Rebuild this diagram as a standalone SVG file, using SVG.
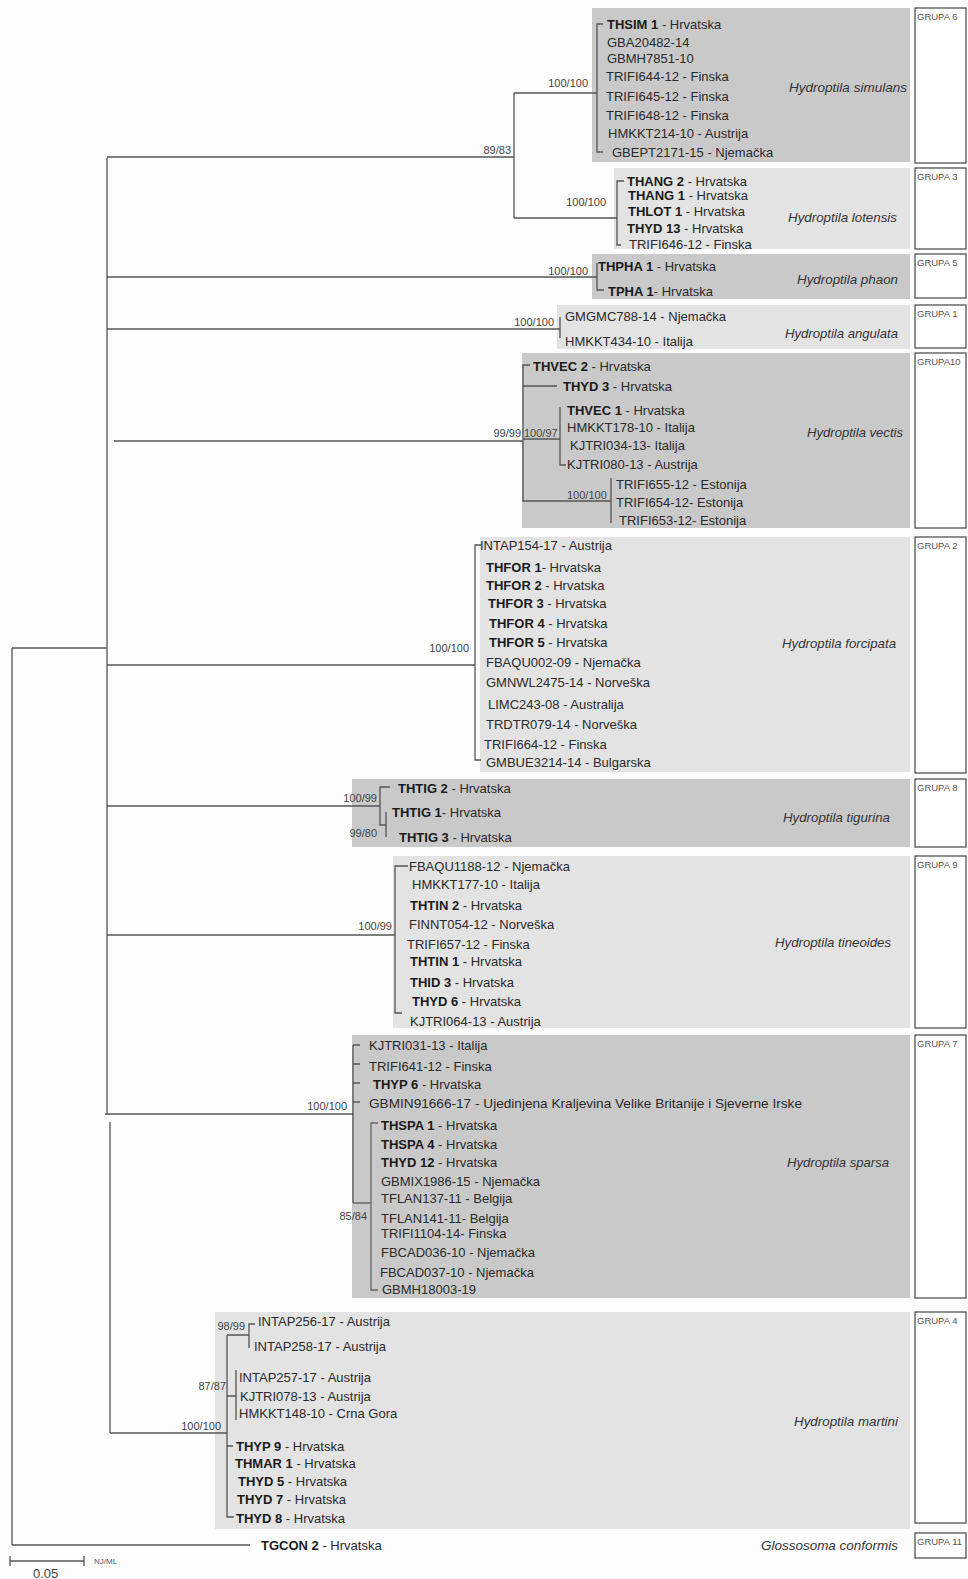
<svg xmlns="http://www.w3.org/2000/svg" width="968" height="1579" viewBox="0 0 968 1579">
<style>
text{font-family:"Liberation Sans",Arial,sans-serif;fill:#2a2a2a}
.t{font-size:13px}
.b{font-weight:bold;fill:#1a1a1a}
.sp{font-size:13px;font-style:italic;fill:#333}
.bs{font-size:11px;fill:#444}
.g{font-size:9.5px;fill:#555}
.dk{fill:#c9c9c9}
.lt{fill:#e3e3e3}
.gb{fill:#fff;stroke:#444;stroke-width:1.2}
.e path{stroke:#555;stroke-width:1.3;fill:none}
</style>
<rect width="968" height="1579" fill="#fdfdfd"/>

<g id="n-simulans">
<rect class="dk" x="592" y="8" width="318" height="154"/>
<text class="t" x="607" y="28.5"><tspan class="b">THSIM 1</tspan> - Hrvatska</text>
<text class="t" x="607" y="46.5">GBA20482-14</text>
<text class="t" x="607" y="62.5">GBMH7851-10</text>
<text class="t" x="606" y="80.5">TRIFI644-12 - Finska</text>
<text class="t" x="606" y="100.5">TRIFI645-12 - Finska</text>
<text class="t" x="606" y="119.5">TRIFI648-12 - Finska</text>
<text class="t" x="608" y="137.5">HMKKT214-10 - Austrija</text>
<text class="t" x="612" y="156.5">GBEPT2171-15 - Njemačka</text>
<text class="sp" x="789" y="91.5" textLength="118" lengthAdjust="spacingAndGlyphs">Hydroptila simulans</text>
</g>

<g id="n-lotensis">
<rect class="lt" x="614" y="168" width="296" height="81"/>
<text class="t" x="627" y="185.5"><tspan class="b">THANG 2</tspan> - Hrvatska</text>
<text class="t" x="628" y="199.5"><tspan class="b">THANG 1</tspan> - Hrvatska</text>
<text class="t" x="628" y="215.5"><tspan class="b">THLOT 1</tspan> - Hrvatska</text>
<text class="t" x="627" y="232.5"><tspan class="b">THYD 13</tspan> - Hrvatska</text>
<text class="t" x="629" y="248.5">TRIFI646-12 - Finska</text>
<text class="sp" x="788" y="221.5" textLength="109" lengthAdjust="spacingAndGlyphs">Hydroptila lotensis</text>
</g>

<g id="n-phaon">
<rect class="dk" x="592" y="254" width="318" height="45"/>
<text class="t" x="598" y="270.5"><tspan class="b">THPHA 1</tspan> - Hrvatska</text>
<text class="t" x="608" y="295.5"><tspan class="b">TPHA 1</tspan>- Hrvatska</text>
<text class="sp" x="797" y="283.5" textLength="101" lengthAdjust="spacingAndGlyphs">Hydroptila phaon</text>
</g>

<g id="n-angulata">
<rect class="lt" x="557" y="305" width="353" height="44"/>
<text class="t" x="565" y="320.5">GMGMC788-14 - Njemačka</text>
<text class="t" x="565" y="345.5">HMKKT434-10 - Italija</text>
<text class="sp" x="785" y="337.5" textLength="113" lengthAdjust="spacingAndGlyphs">Hydroptila angulata</text>
</g>

<g id="n-vectis">
<rect class="dk" x="522" y="353" width="388" height="175"/>
<text class="t" x="533" y="370.5"><tspan class="b">THVEC 2</tspan> - Hrvatska</text>
<text class="t" x="563" y="390.5"><tspan class="b">THYD 3</tspan> - Hrvatska</text>
<text class="t" x="567" y="414.5"><tspan class="b">THVEC 1</tspan> - Hrvatska</text>
<text class="t" x="567" y="431.5">HMKKT178-10 - Italija</text>
<text class="t" x="570" y="449.5">KJTRI034-13- Italija</text>
<text class="t" x="567" y="468.5">KJTRI080-13 - Austrija</text>
<text class="t" x="616" y="488.5">TRIFI655-12 - Estonija</text>
<text class="t" x="616" y="506.5">TRIFI654-12- Estonija</text>
<text class="t" x="619" y="524.5">TRIFI653-12- Estonija</text>
<text class="sp" x="807" y="436.5" textLength="96" lengthAdjust="spacingAndGlyphs">Hydroptila vectis</text>
</g>

<g id="n-forcipata">
<rect class="lt" x="480" y="537" width="430" height="235"/>
<text class="t" x="480" y="549.5">INTAP154-17 - Austrija</text>
<text class="t" x="486" y="571.5"><tspan class="b">THFOR 1</tspan>- Hrvatska</text>
<text class="t" x="486" y="589.5"><tspan class="b">THFOR 2</tspan> - Hrvatska</text>
<text class="t" x="488" y="607.5"><tspan class="b">THFOR 3</tspan> - Hrvatska</text>
<text class="t" x="489" y="627.5"><tspan class="b">THFOR 4</tspan> - Hrvatska</text>
<text class="t" x="489" y="646.5"><tspan class="b">THFOR 5</tspan> - Hrvatska</text>
<text class="t" x="486" y="666.5">FBAQU002-09 - Njemačka</text>
<text class="t" x="486" y="686.5">GMNWL2475-14 - Norveška</text>
<text class="t" x="488" y="708.5">LIMC243-08 - Australija</text>
<text class="t" x="486" y="728.5">TRDTR079-14 - Norveška</text>
<text class="t" x="484" y="748.5">TRIFI664-12 - Finska</text>
<text class="t" x="486" y="766.5">GMBUE3214-14 - Bulgarska</text>
<text class="sp" x="782" y="647.5" textLength="114" lengthAdjust="spacingAndGlyphs">Hydroptila forcipata</text>
</g>

<g id="n-tigurina">
<rect class="dk" x="352" y="779" width="558" height="68"/>
<text class="t" x="398" y="792.5"><tspan class="b">THTIG 2</tspan> - Hrvatska</text>
<text class="t" x="392" y="816.5"><tspan class="b">THTIG 1</tspan>- Hrvatska</text>
<text class="t" x="399" y="841.5"><tspan class="b">THTIG 3</tspan> - Hrvatska</text>
<text class="sp" x="783" y="821.5" textLength="107" lengthAdjust="spacingAndGlyphs">Hydroptila tigurina</text>
</g>

<g id="n-tineoides">
<rect class="lt" x="393" y="856" width="517" height="172"/>
<text class="t" x="409" y="870.5">FBAQU1188-12 - Njemačka</text>
<text class="t" x="412" y="888.5">HMKKT177-10 - Italija</text>
<text class="t" x="410" y="909.5"><tspan class="b">THTIN 2</tspan> - Hrvatska</text>
<text class="t" x="409" y="928.5">FINNT054-12 - Norveška</text>
<text class="t" x="407" y="948.5">TRIFI657-12 - Finska</text>
<text class="t" x="410" y="965.5"><tspan class="b">THTIN 1</tspan> - Hrvatska</text>
<text class="t" x="410" y="986.5"><tspan class="b">THID 3</tspan> - Hrvatska</text>
<text class="t" x="412" y="1005.5"><tspan class="b">THYD 6</tspan> - Hrvatska</text>
<text class="t" x="410" y="1025.5">KJTRI064-13 - Austrija</text>
<text class="sp" x="775" y="946.5" textLength="116" lengthAdjust="spacingAndGlyphs">Hydroptila tineoides</text>
</g>

<g id="n-sparsa">
<rect class="dk" x="352" y="1035" width="558" height="263"/>
<text class="t" x="369" y="1049.5">KJTRI031-13 - Italija</text>
<text class="t" x="369" y="1070.5">TRIFI641-12 - Finska</text>
<text class="t" x="373" y="1088.5"><tspan class="b">THYP 6</tspan> - Hrvatska</text>
<text class="t" x="369" y="1107.5" textLength="433" lengthAdjust="spacingAndGlyphs">GBMIN91666-17 - Ujedinjena Kraljevina Velike Britanije i Sjeverne Irske</text>
<text class="t" x="381" y="1129.5"><tspan class="b">THSPA 1</tspan> - Hrvatska</text>
<text class="t" x="381" y="1148.5"><tspan class="b">THSPA 4</tspan> - Hrvatska</text>
<text class="t" x="381" y="1166.5"><tspan class="b">THYD 12</tspan> - Hrvatska</text>
<text class="t" x="381" y="1185.5">GBMIX1986-15 - Njemačka</text>
<text class="t" x="381" y="1202.5">TFLAN137-11 - Belgija</text>
<text class="t" x="381" y="1222.5">TFLAN141-11- Belgija</text>
<text class="t" x="381" y="1237.5">TRIFI1104-14- Finska</text>
<text class="t" x="381" y="1256.5">FBCAD036-10 - Njemačka</text>
<text class="t" x="380" y="1276.5">FBCAD037-10 - Njemačka</text>
<text class="t" x="382" y="1293.5">GBMH18003-19</text>
<text class="sp" x="787" y="1166.5" textLength="102" lengthAdjust="spacingAndGlyphs">Hydroptila sparsa</text>
</g>

<g id="n-martini">
<rect class="lt" x="215" y="1312" width="695" height="217"/>
<text class="t" x="258" y="1325.5">INTAP256-17 - Austrija</text>
<text class="t" x="254" y="1350.5">INTAP258-17 - Austrija</text>
<text class="t" x="239" y="1381.5">INTAP257-17 - Austrija</text>
<text class="t" x="240" y="1400.5">KJTRI078-13 - Austrija</text>
<text class="t" x="239" y="1417.5">HMKKT148-10 - Crna Gora</text>
<text class="t" x="236" y="1450.5"><tspan class="b">THYP 9</tspan> - Hrvatska</text>
<text class="t" x="235" y="1467.5"><tspan class="b">THMAR 1</tspan> - Hrvatska</text>
<text class="t" x="238" y="1485.5"><tspan class="b">THYD 5</tspan> - Hrvatska</text>
<text class="t" x="237" y="1503.5"><tspan class="b">THYD 7</tspan> - Hrvatska</text>
<text class="t" x="236" y="1522.5"><tspan class="b">THYD 8</tspan> - Hrvatska</text>
<text class="sp" x="794" y="1425.5" textLength="104" lengthAdjust="spacingAndGlyphs">Hydroptila martini</text>
</g>

<g id="n-outgroup">
<text class="t" x="261" y="1549.5"><tspan class="b">TGCON 2</tspan> - Hrvatska</text>
<text class="sp" x="761" y="1549.5" textLength="137" lengthAdjust="spacingAndGlyphs">Glossosoma conformis</text>
</g>

<g id="edges" class="e">
<path d="M12 648V1545M12 648H107M12 1545H250"/>
<path d="M107 158V1115M110 1122V1433"/>
<path d="M107 157H514M514 93V218M514 93H597M514 218H617"/>
<path d="M603 24H597V152H603"/>
<path d="M624 181H617V245H621"/>
<path d="M107 277H597M597 263V290H604"/>
<path d="M107 329H560M560 317V338"/>
<path d="M114 441H523M530 365H523V502M523 386H557M523 439H560M560 407V465H566M523 501H611M611 478V523"/>
<path d="M107 665H475M481 545H475V760H481"/>
<path d="M107 806H380M390 787H380V825H386M386 812V837"/>
<path d="M107 935H395M408 866H395V1013H402"/>
<path d="M105 1114H353M353 1045V1203M353 1045H360M353 1064H360M353 1083H360M353 1102H360"/>
<path d="M353 1203H371M378 1123H371V1290H378" style="stroke:#666"/>
<path d="M110 1433H227M227 1335V1517H234M227 1335H249M255 1324H249V1348M227 1396H236M236 1370V1420M227 1446H233"/>
<path d="M10 1561H84M10 1556V1566M84 1556V1566"/>
</g>

<g id="support">
<text class="bs" x="511" y="154" text-anchor="end">89/83</text>
<text class="bs" x="588" y="87" text-anchor="end">100/100</text>
<text class="bs" x="606" y="206" text-anchor="end">100/100</text>
<text class="bs" x="588" y="275" text-anchor="end">100/100</text>
<text class="bs" x="554" y="326" text-anchor="end">100/100</text>
<text class="bs" x="521" y="437" text-anchor="end">99/99</text>
<text class="bs" x="524" y="437">100/97</text>
<text class="bs" x="567" y="499">100/100</text>
<text class="bs" x="469" y="652" text-anchor="end">100/100</text>
<text class="bs" x="377" y="802" text-anchor="end">100/99</text>
<text class="bs" x="377" y="837" text-anchor="end">99/80</text>
<text class="bs" x="392" y="930" text-anchor="end">100/99</text>
<text class="bs" x="347" y="1110" text-anchor="end">100/100</text>
<text class="bs" x="367" y="1220" text-anchor="end">85/84</text>
<text class="bs" x="245" y="1330" text-anchor="end">98/99</text>
<text class="bs" x="226" y="1390" text-anchor="end">87/87</text>
<text class="bs" x="221" y="1430" text-anchor="end">100/100</text>
</g>

<g id="groups">
<rect class="gb" x="915" y="8" width="51" height="155"/><text class="g" x="917" y="20">GRUPA 6</text>
<rect class="gb" x="915" y="168" width="51" height="81"/><text class="g" x="917" y="180">GRUPA 3</text>
<rect class="gb" x="915" y="254" width="51" height="44"/><text class="g" x="917" y="266">GRUPA 5</text>
<rect class="gb" x="915" y="305" width="51" height="43"/><text class="g" x="917" y="317">GRUPA 1</text>
<rect class="gb" x="915" y="353" width="51" height="175"/><text class="g" x="917" y="365">GRUPA10</text>
<rect class="gb" x="915" y="537" width="51" height="236"/><text class="g" x="917" y="549">GRUPA 2</text>
<rect class="gb" x="915" y="779" width="51" height="68"/><text class="g" x="917" y="791">GRUPA 8</text>
<rect class="gb" x="915" y="856" width="51" height="172"/><text class="g" x="917" y="868">GRUPA 9</text>
<rect class="gb" x="915" y="1035" width="51" height="263"/><text class="g" x="917" y="1047">GRUPA 7</text>
<rect class="gb" x="915" y="1312" width="51" height="211"/><text class="g" x="917" y="1324">GRUPA 4</text>
<rect class="gb" x="915" y="1533" width="51" height="25"/><text class="g" x="917" y="1545">GRUPA 11</text>
</g>

<g id="scale">
<text style="font-size:8px;fill:#555" x="94" y="1564">NJ/ML</text>
<text style="font-size:13px;fill:#444" x="33" y="1578">0.05</text>
</g>
</svg>
